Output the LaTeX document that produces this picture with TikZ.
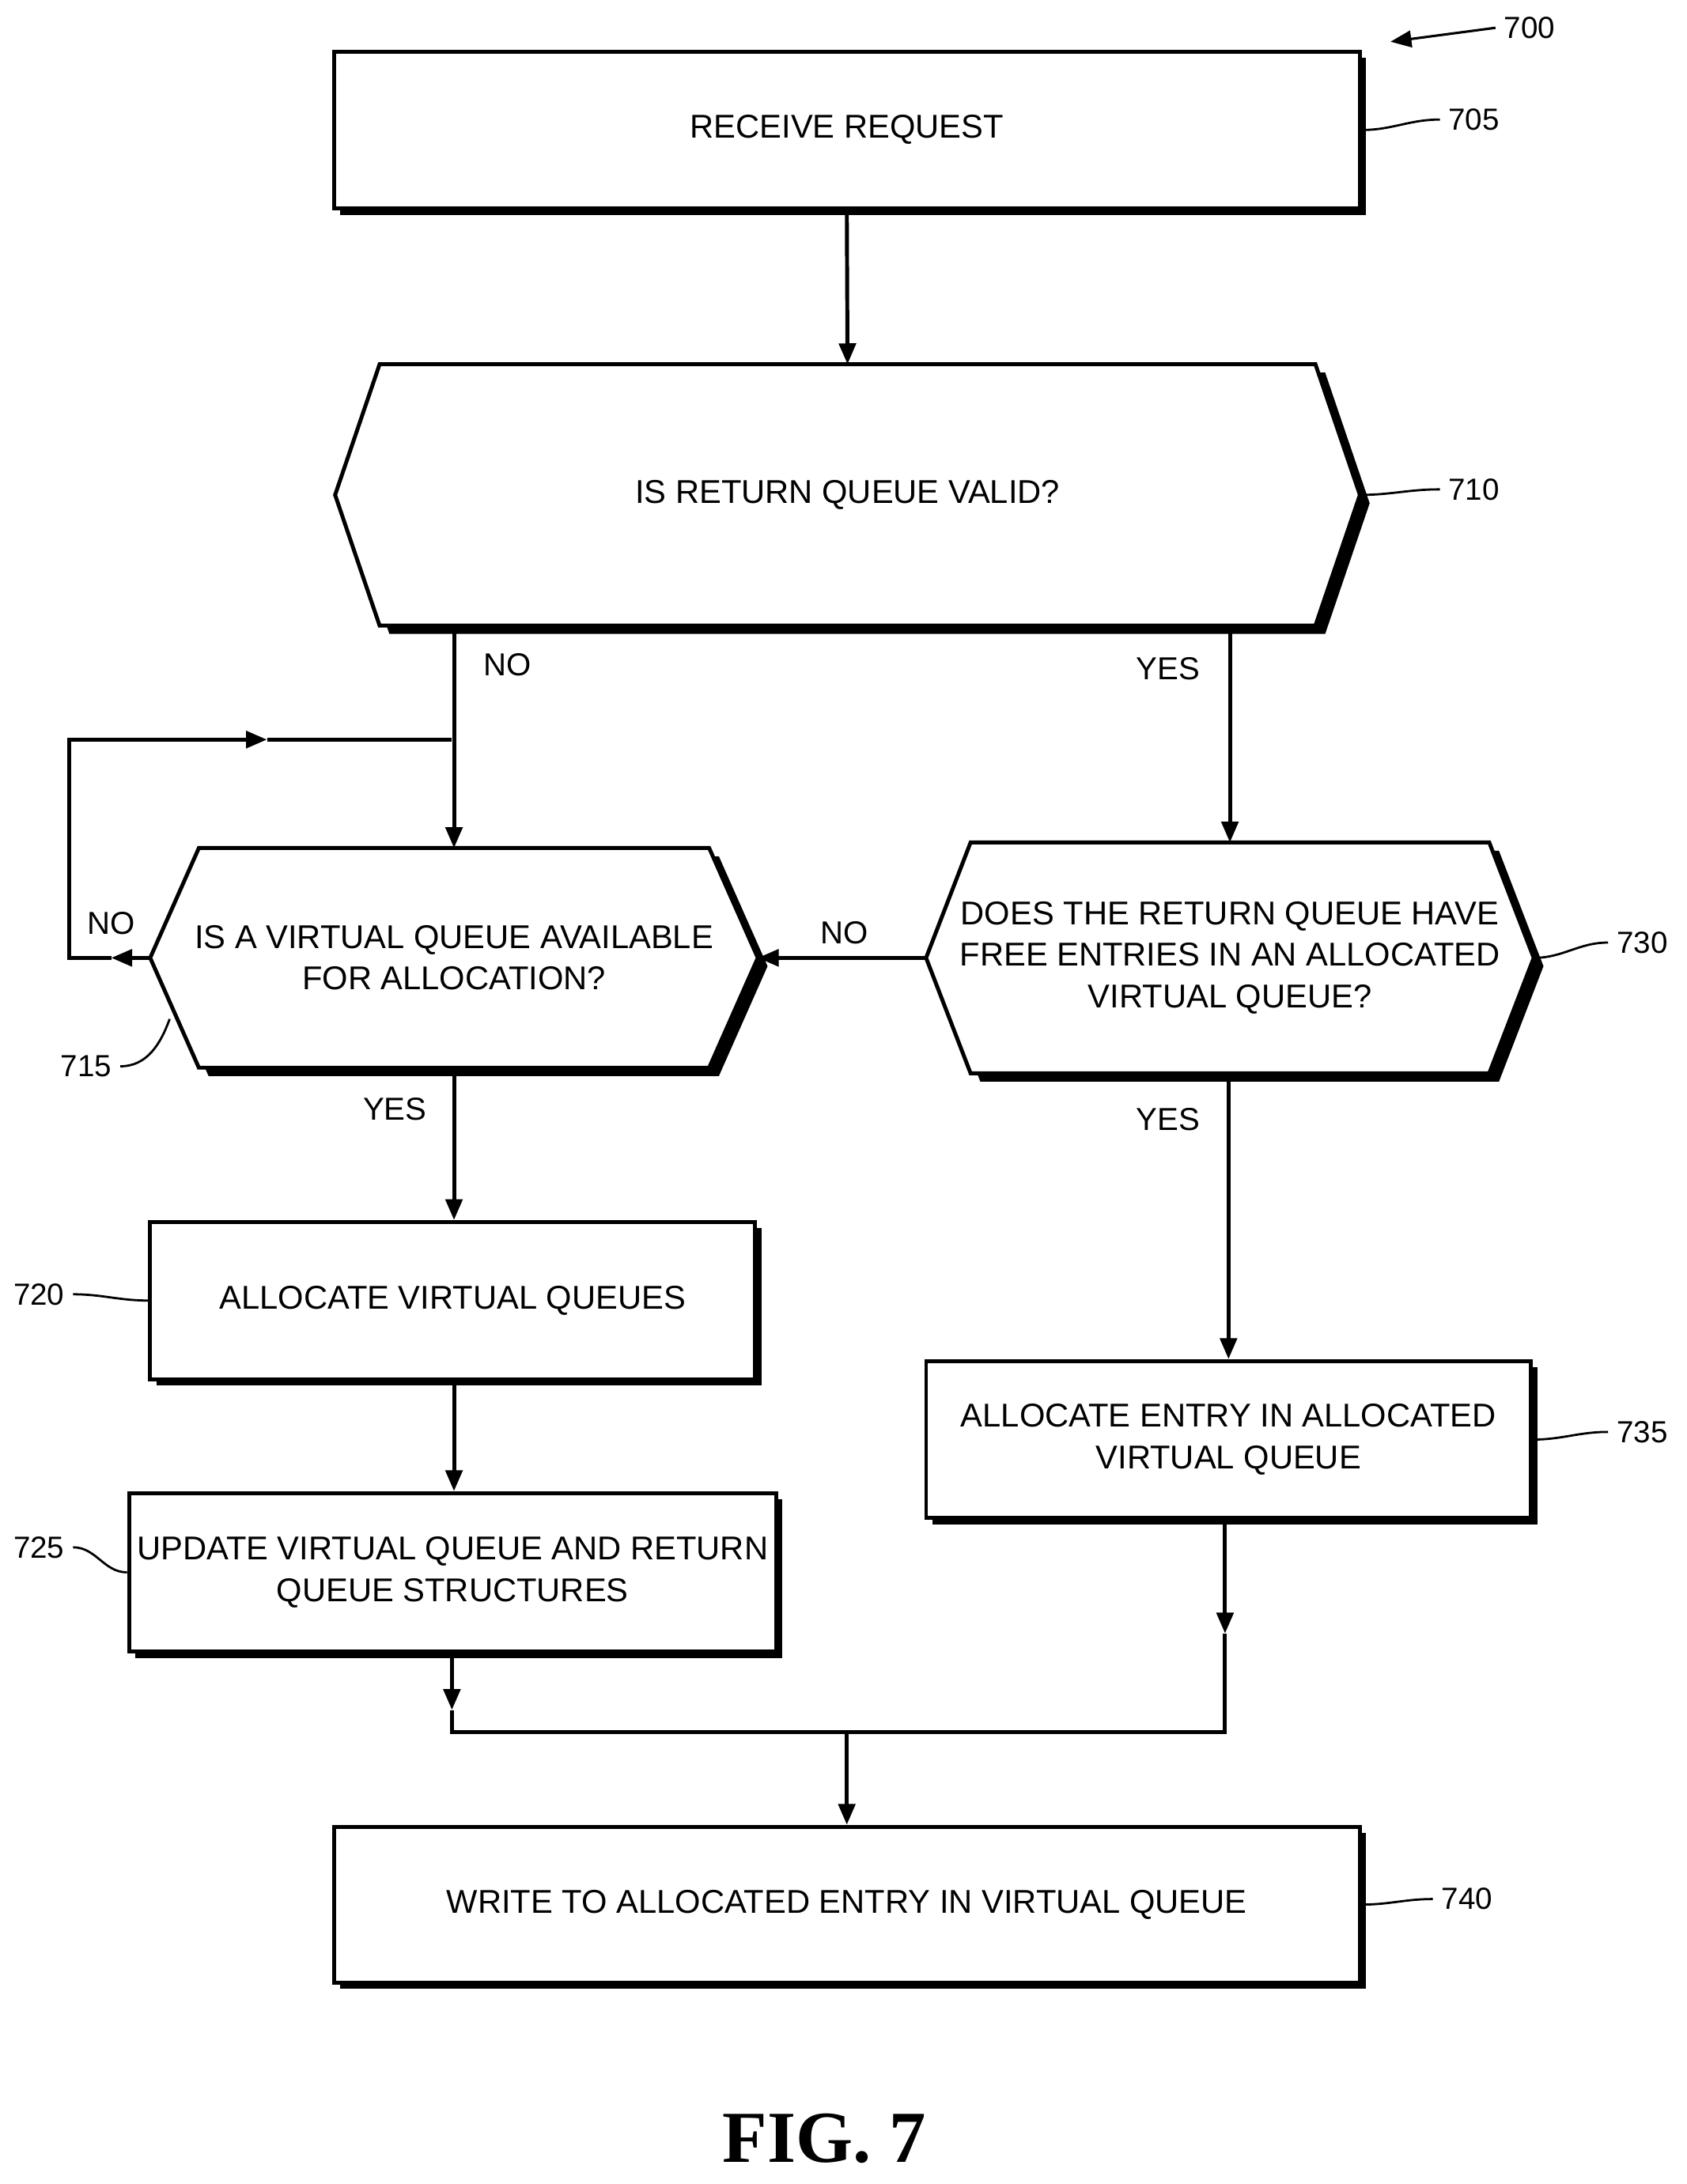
\documentclass[tikz,border=0pt]{standalone}
\usepackage{fontspec}
\setmainfont{Liberation Sans}
\usetikzlibrary{arrows.meta,shadows}

\tikzset{
  box/.style={rectangle, draw, fill=white, line width=1.6pt, align=center,
    general shadow={fill=black, shadow xshift=0.09cm, shadow yshift=-0.09cm}},
  flow/.style={line width=1.6pt, -{Triangle[length=0.3cm,width=0.24cm]}},
  line/.style={line width=1.6pt},
  lead/.style={line width=0.9pt},
  refnum/.style={font=\fontsize{12.5}{14}\selectfont},
  lbl/.style={font=\fontsize{13}{15}\selectfont}
}

% decision hexagon: name, cx, cy, half width, half height, point depth, text
\newcommand{\decision}[7]{%
  \fill[shift={(7,6)}] (#2-#4,#3) -- (#2-#4+#6,#3-#5) -- (#2+#4-#6,#3-#5) -- (#2+#4,#3)
     -- (#2+#4-#6,#3+#5) -- (#2-#4+#6,#3+#5) -- cycle;
  \draw[line, fill=white] (#2-#4,#3) -- (#2-#4+#6,#3-#5) -- (#2+#4-#6,#3-#5) -- (#2+#4,#3)
     -- (#2+#4-#6,#3+#5) -- (#2-#4+#6,#3+#5) -- cycle;
  \node[align=center] (#1) at (#2,#3) {#7};
  \coordinate (#1-n) at (#2,#3-#5);
  \coordinate (#1-s) at (#2,#3+#5);
  \coordinate (#1-w) at (#2-#4,#3);
  \coordinate (#1-e) at (#2+#4,#3);
}

\begin{document}
\begin{tikzpicture}[x=0.02cm, y=-0.02cm, font=\fontsize{13.5}{17}\selectfont]
  \useasboundingbox (0,0) rectangle (1213,1571);

  % process boxes
  \node[box, minimum width=14.76cm, minimum height=2.26cm] (q705) at (609,93.5) {RECEIVE REQUEST};
  \node[box, minimum width=8.7cm, minimum height=2.26cm] (q720) at (325.5,935.5) {ALLOCATE VIRTUAL QUEUES};
  \node[box, minimum width=8.7cm, minimum height=2.28cm] (q725) at (325.5,1131) {UPDATE VIRTUAL QUEUE AND RETURN\\QUEUE STRUCTURES};
  \node[box, minimum width=8.7cm, minimum height=2.26cm] (q735) at (883.5,1035.5) {ALLOCATE ENTRY IN ALLOCATED\\VIRTUAL QUEUE};
  \node[box, minimum width=14.76cm, minimum height=2.24cm] (q740) at (609,1370) {WRITE TO ALLOCATED ENTRY IN VIRTUAL QUEUE};

  % decisions
  \decision{q710}{609.5}{356}{368.5}{94}{32}{IS RETURN QUEUE VALID?}
  \decision{q715}{326.5}{689}{218.5}{79}{35}{IS A VIRTUAL QUEUE AVAILABLE\\FOR ALLOCATION?}
  \decision{q730}{884.5}{689}{218.5}{83}{32}{DOES THE RETURN QUEUE HAVE\\FREE ENTRIES IN AN ALLOCATED\\VIRTUAL QUEUE?}

  % helper points
  \coordinate (join) at (325,532);
  \coordinate (lp0) at (80,689);
  \coordinate (lp1) at (50,689);
  \coordinate (lp2) at (50,532);
  \coordinate (mid) at (192,532);
  \coordinate (m1) at (325,1230);
  \coordinate (m2) at (881,1175);
  \coordinate (m3) at (325,1246);
  \coordinate (m4) at (881,1246);
  \coordinate (m5) at (609,1246);

  % connectors
  \draw[flow] (q705.south) -- (q710-n);
  \draw[flow] (q710-s -| q715-n) -- (q715-n);
  \draw[flow] (q710-s -| q730-n) -- (q730-n);
  \draw[flow] (q715-w) -- (lp0);
  \draw[flow] (lp0) -- (lp1) -- (lp2) -- (mid);
  \draw[line] (mid) -- (join);
  \draw[flow] (q730-w) -- (q715-e);
  \draw[flow] (q715-s) -- (q720.north -| q715-s);
  \draw[flow] (q720.south -| q715-s) -- (q725.north -| q715-s);
  \draw[flow] (q730-s -| q735.north) -- (q735.north);
  \draw[flow] (q725.south -| m1) -- (m1);
  \draw[line] (m1) -- (m3) -- (m4) -- (m2);
  \draw[flow] (q735.south -| m2) -- (m2);
  \draw[flow] (m5) -- (q740.north);

  % branch labels
  \node[lbl] at (365,478) {NO};
  \node[lbl] at (840,481) {YES};
  \node[lbl] at (80,664) {NO};
  \node[lbl] at (607,671) {NO};
  \node[lbl] at (284,798) {YES};
  \node[lbl] at (840,805) {YES};

  % reference numerals
  \node[refnum] (l700) at (1100,20) {700};
  \coordinate (a700) at (1000,30);
  \draw[flow, line width=1pt] (l700.west) -- (a700);
  \node[refnum] (l705) at (1060,86) {705};
  \node[refnum] (l710) at (1060,352) {710};
  \node[refnum] (l730) at (1181,678) {730};
  \node[refnum] (l735) at (1181,1030) {735};
  \node[refnum] (l740) at (1055,1366) {740};
  \node[refnum] (l715) at (62,767) {715};
  \node[refnum] (l720) at (28,931) {720};
  \node[refnum] (l725) at (28,1113) {725};
  \draw[lead] (q705.east) to[out=0,in=180] (l705.west);
  \draw[lead] (q710-e) to[out=0,in=180] (l710.west);
  \draw[lead] (q730-e) to[out=0,in=180] (l730.west);
  \draw[lead] (q735.east) to[out=0,in=180] (l735.west);
  \draw[lead] (q740.east) to[out=0,in=180] (l740.west);
  \coordinate (t715) at (122,733);
  \draw[lead] (l715.east) to[out=0,in=-110] (t715);
  \draw[lead] (l720.east) to[out=0,in=180] (q720.west);
  \draw[lead] (l725.east) to[out=0,in=180] (q725.west);

  \node[font=\fontsize{30}{34}\selectfont\bfseries\fontspec{Liberation Serif}] (fig) at (593,1538) {FIG. 7};
\end{tikzpicture}
\end{document}
